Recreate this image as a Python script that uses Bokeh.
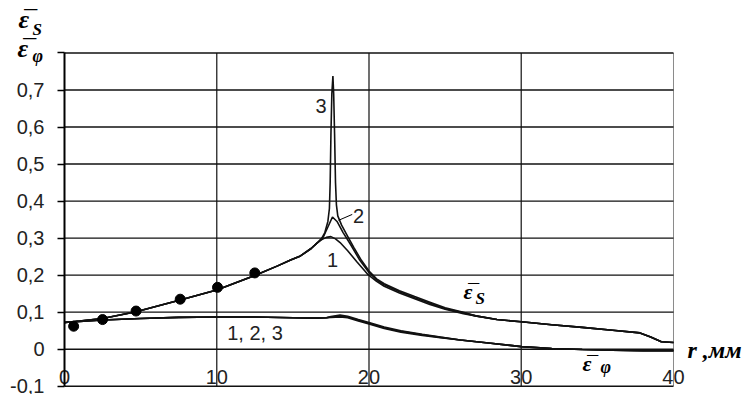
from bokeh.plotting import figure
from bokeh.models import FixedTicker, Label, Range1d, LinearAxis
from bokeh.core.properties import value
from bokeh.embed import file_html
from bokeh.resources import INLINE

# ---- data ----
x_ticks = [0, 10, 20, 30, 40]
x_labels = ["0", "10", "20", "30", "40"]
y_ticks = [-0.1, 0.0, 0.1, 0.2, 0.3, 0.4, 0.5, 0.6, 0.7, 0.8]
y_labels = ["-0,1", "0", "0,1", "0,2", "0,3", "0,4", "0,5", "0,6", "0,7", ""]

# eps_S : shared rising part
r_s_common = [0, 1, 2.5, 4.7, 7.6, 10, 12.5, 14, 14.85, 15.5, 16.2, 16.6]
es_common = [0.072, 0.076, 0.083, 0.101, 0.133, 0.16, 0.199, 0.225, 0.241, 0.252, 0.272, 0.287]
# eps_S : curve-specific peak parts
r_s1 = [16.9, 17.2, 17.5, 17.8, 18.1, 18.6, 19.2, 19.9, 20.5, 21, 22, 23, 24, 25, 26.2]
es_1 = [0.296, 0.302, 0.304, 0.298, 0.288, 0.266, 0.236, 0.203, 0.183, 0.17, 0.152, 0.136, 0.121, 0.108, 0.096]
r_s2 = [16.9, 17.0, 17.3, 17.6, 17.9, 18.3, 18.8, 19.4, 20, 20.5, 21, 22, 23, 24, 25, 26.2]
es_2 = [0.298, 0.303, 0.33, 0.357, 0.345, 0.315, 0.282, 0.24, 0.207, 0.187, 0.174, 0.155, 0.139, 0.124, 0.11, 0.098]
r_s3 = [16.9, 17.1, 17.3, 17.4, 17.45, 17.5, 17.56, 17.63, 17.68, 17.74, 17.8, 17.86, 17.95,
        18.2, 18.6, 19.0, 19.5, 20, 20.5, 21, 22, 23, 24, 25, 26.2]
es_3 = [0.3, 0.315, 0.345, 0.38, 0.45, 0.58, 0.69, 0.738, 0.69, 0.58, 0.45, 0.39, 0.36,
        0.335, 0.305, 0.275, 0.24, 0.211, 0.19, 0.177, 0.158, 0.142, 0.127, 0.112, 0.1]
# eps_S : shared tail
r_s_tail = [27, 28.4, 30, 32, 34, 36, 37.8, 38.5, 39.2, 40]
es_tail = [0.09, 0.08, 0.074, 0.066, 0.059, 0.051, 0.044, 0.033, 0.02, 0.018]

# eps_phi
r_p_common = [0, 2.5, 5, 7.5, 10, 12.5, 15, 16.5, 17.2]
ep_common = [0.072, 0.079, 0.083, 0.086, 0.087, 0.087, 0.085, 0.084, 0.085]
r_p_mid = [17.5, 18.1, 18.6, 19.3, 20, 21, 22.1, 23.5, 24.7]
ep_1 = [0.086, 0.087, 0.085, 0.076, 0.068, 0.056, 0.046, 0.037, 0.031]
ep_2 = [0.087, 0.089, 0.087, 0.078, 0.070, 0.058, 0.048, 0.039, 0.032]
ep_3 = [0.088, 0.092, 0.089, 0.080, 0.072, 0.060, 0.050, 0.040, 0.033]
r_p_tail = [26, 28, 30, 32, 34, 36, 38, 40]
ep_tail = [0.025, 0.016, 0.007, 0.002, -0.001, -0.003, -0.004, -0.004]

# experimental points
r_pts = [0.6, 2.5, 4.7, 7.6, 10.05, 12.5]
e_pts = [0.062, 0.08, 0.103, 0.135, 0.167, 0.206]

# ---- figure: the frame fills the canvas, the plotting box is 0..40 x -0.1..0.8 ----
p = figure(width=745, height=394, output_backend="svg", toolbar_location=None,
           x_range=Range1d(-4.204, 44.73), y_range=Range1d(-0.1224, 0.9418),
           x_axis_location=None, y_axis_location=None, min_border=0)
p.outline_line_color = None
p.background_fill_color = "white"
p.border_fill_color = "white"
p.xgrid.visible = False
p.ygrid.visible = False

x0, x1 = x_ticks[0], x_ticks[-1]
y0, y1 = y_ticks[0], y_ticks[-1]

# grid lines
p.segment(x0=x_ticks[1:-1], y0=[y0] * 3, x1=x_ticks[1:-1], y1=[y1] * 3,
          line_color="#333333", line_width=1.4)
p.segment(x0=[x1], y0=[y0], x1=[x1], y1=[y1], line_color="#8a8a8a", line_width=1)
p.segment(x0=[x0] * len(y_ticks), y0=y_ticks, x1=[x1] * len(y_ticks), y1=y_ticks,
          line_color="#111111", line_width=1.4)

# y axis placed at r = 0
ya = LinearAxis(fixed_location=x0, bounds=(y0, y1), ticker=FixedTicker(ticks=y_ticks))
ya.major_label_overrides = dict(zip(y_ticks, y_labels))
ya.axis_line_color = "black"
ya.axis_line_width = 2
ya.major_tick_in = 0
ya.major_tick_out = 7
ya.major_tick_line_color = "black"
ya.major_tick_line_width = 1.5
ya.minor_tick_line_color = None
ya.major_label_standoff = 13
ya.major_label_text_font = "Liberation Sans"
ya.major_label_text_font_size = "20px"
ya.major_label_text_color = "#222222"
p.add_layout(ya, "left")

# x tick labels, sitting just above the bottom frame line
p.text(x=x_ticks, y=[y0] * len(x_ticks), text=x_labels, text_align="center",
       text_baseline="middle", y_offset=-9, text_font=value("Liberation Sans"),
       text_font_size="20px", text_color="#222222")

# curves
lc = "#111111"
lw = 1.6
p.line(r_s_common + r_s1 + r_s_tail, es_common + es_1 + es_tail, line_color=lc, line_width=lw)
p.line(r_s_common + r_s2 + r_s_tail, es_common + es_2 + es_tail, line_color=lc, line_width=lw)
p.line(r_s_common + r_s3 + r_s_tail, es_common + es_3 + es_tail, line_color=lc, line_width=lw)
p.line(r_p_common + r_p_mid + r_p_tail, ep_common + ep_1 + ep_tail, line_color=lc, line_width=lw)
p.line(r_p_common + r_p_mid + r_p_tail, ep_common + ep_2 + ep_tail, line_color=lc, line_width=lw)
p.line(r_p_common + r_p_mid + r_p_tail, ep_common + ep_3 + ep_tail, line_color=lc, line_width=lw)

p.scatter(r_pts, e_pts, size=10, color="black")

# leader for label "2"
p.line([18.0, 18.9], [0.348, 0.364], line_color="black", line_width=1)

# curve number labels
def num_label(x, y, t):
    p.add_layout(Label(x=x, y=y, text=t, text_align="center", text_baseline="middle",
                       text_font="Liberation Sans", text_font_size="20px", text_color="#222222"))

num_label(16.85, 0.658, "3")
num_label(19.31, 0.361, "2")
num_label(17.60, 0.242, "1")
num_label(12.51, 0.044, "1, 2, 3")

def sym(x, y, t, size):
    p.add_layout(Label(x=x, y=y, text=t, text_align="left", text_baseline="middle",
                       text_font="Liberation Serif", text_font_style="bold italic",
                       text_font_size=size, text_color="black"))

def eps_bar(x, y, size, shift):
    sym(x, y, "\u03b5", size)
    sym(x + shift, y, "\u00af", size)

# axis title (top-left)
eps_bar(-3.02, 0.890, "26px", 0.25)
sym(-2.10, 0.863, "S", "17px")
eps_bar(-3.09, 0.812, "26px", 0.25)
sym(-2.10, 0.791, "\u03c6", "18px")
# in-plot symbols
eps_bar(26.2, 0.157, "22px", 0.2)
sym(27.0, 0.136, "S", "17px")
eps_bar(34.02, -0.040, "22px", 0.2)
sym(35.2, -0.047, "\u03c6", "18px")
# x-axis title
sym(40.92, -0.003, "r ,\u043c\u043c", "24px")

open("out.html", "w").write(file_html(p, INLINE))
